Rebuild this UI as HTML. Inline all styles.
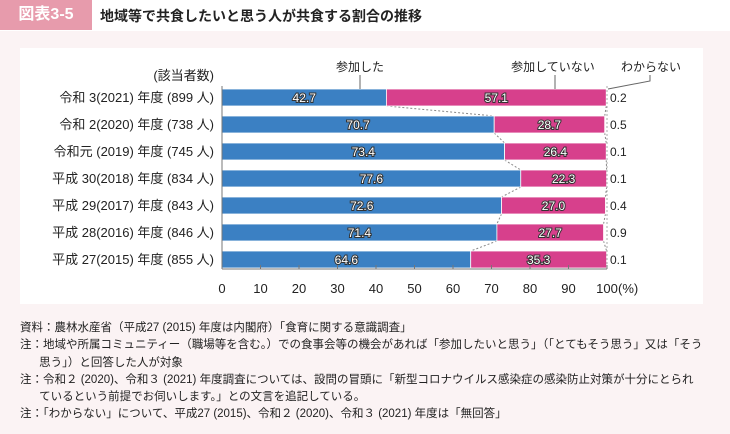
<!DOCTYPE html>
<html><head><meta charset="utf-8">
<style>
body{margin:0;width:730px;height:434px;background:#fbf3f4;font-family:"Liberation Sans","Noto Sans CJK JP",sans-serif;overflow:hidden;position:relative}
.hdr{position:absolute;left:0;top:0;width:730px;height:31px;background:#fff}
.tab{position:absolute;left:0;top:0;width:92px;height:30px;background:#e79bac;color:#fff;font-size:16px;font-weight:bold;line-height:30px;text-align:center}
.title{position:absolute;left:100px;top:6px;font-size:14px;font-weight:bold;color:#222}
.panel{position:absolute;left:20px;top:48px;width:683px;height:256px;background:#fff}
.notes{position:absolute;left:20px;top:320px;font-size:11.5px;color:#222;line-height:17.3px}
.notes div{white-space:nowrap}
</style></head><body>
<div class="hdr"></div>
<div class="tab">図表3-5</div>
<div class="title">地域等で共食したいと思う人が共食する割合の推移</div>
<div class="panel"></div>
<svg id="chart" width="730" height="434" style="position:absolute;left:0;top:0"></svg>
<div class="notes">
<div>資料：農林水産省（平成27 (2015) 年度は内閣府）「食育に関する意識調査」</div>
<div>注：地域や所属コミュニティー（職場等を含む。）での食事会等の機会があれば「参加したいと思う」（「とてもそう思う」又は「そう</div>
<div>&nbsp;&nbsp;&nbsp;&nbsp;&nbsp;&nbsp;思う」）と回答した人が対象</div>
<div>注：令和２ (2020)、令和３ (2021) 年度調査については、設問の冒頭に「新型コロナウイルス感染症の感染防止対策が十分にとられ</div>
<div>&nbsp;&nbsp;&nbsp;&nbsp;&nbsp;&nbsp;ているという前提でお伺いします。」との文言を追記している。</div>
<div>注：「わからない」について、平成27 (2015)、令和２ (2020)、令和３ (2021) 年度は「無回答」</div>
</div>
<script>
const categories=["令和 3(2021) 年度 (899 人)","令和 2(2020) 年度 (738 人)","令和元 (2019) 年度 (745 人)","平成 30(2018) 年度 (834 人)","平成 29(2017) 年度 (843 人)","平成 28(2016) 年度 (846 人)","平成 27(2015) 年度 (855 人)"];
const joined=[42.7,70.7,73.4,77.6,72.6,71.4,64.6];
const notJoined=[57.1,28.7,26.4,22.3,27.0,27.7,35.3];
const unknown=[0.2,0.5,0.1,0.1,0.4,0.9,0.1];
const ticks=[0,10,20,30,40,50,60,70,80,90,100];
const NS="http://www.w3.org/2000/svg";
const svg=document.getElementById('chart');
const x=v=>222+v*3.85;
const y=i=>89+i*27;
const BH=17;
function mk(t,a,txt){const e=document.createElementNS(NS,t);for(const k in a)e.setAttribute(k,a[k]);if(txt!==undefined)e.textContent=txt;svg.appendChild(e);return e;}
for(let i=0;i<categories.length-1;i++){
 const a=joined[i],b=joined[i+1],c=joined[i]+notJoined[i],d=joined[i+1]+notJoined[i+1];
 let l=mk('line',{x1:x(a),y1:y(i)+BH,x2:x(b),y2:y(i+1),stroke:'#888','stroke-dasharray':'2,2','stroke-width':1});
 
 l=mk('line',{x1:x(c),y1:y(i)+BH,x2:x(d),y2:y(i+1),stroke:'#888','stroke-dasharray':'2,2','stroke-width':1});
 
}
categories.forEach((c,i)=>{
 const yy=y(i);
 let t=mk('text',{x:214,y:yy+13,'text-anchor':'end','font-size':13,fill:'#222'},c);
 
 let r=mk('rect',{x:x(0),y:yy,width:x(joined[i])-x(0),height:BH,fill:'#3b80c3',stroke:'#fff','stroke-width':0.8});
 
 r=mk('rect',{x:x(joined[i]),y:yy,width:x(notJoined[i])-x(0),height:BH,fill:'#d7408c',stroke:'#fff','stroke-width':0.8});
 
 t=mk('text',{x:(x(0)+x(joined[i]))/2,y:yy+13,'text-anchor':'middle','font-size':12,fill:'#fff',stroke:'#333','stroke-width':2,'paint-order':'stroke'},joined[i].toFixed(1));
 
 t=mk('text',{x:(x(joined[i])+x(joined[i]+notJoined[i]))/2,y:yy+13,'text-anchor':'middle','font-size':12,fill:'#fff',stroke:'#333','stroke-width':2,'paint-order':'stroke'},notJoined[i].toFixed(1));
 
 t=mk('text',{x:x(100)+3,y:yy+13,'font-size':12,fill:'#222'},unknown[i].toFixed(1));
 
});
let ax=mk('line',{x1:x(0),y1:86,x2:x(0),y2:269,stroke:'#777'});

ax=mk('line',{x1:x(0),y1:269,x2:x(100),y2:269,stroke:'#777'});

ax=mk('line',{x1:x(100),y1:86,x2:x(100),y2:269,stroke:'#aaa','stroke-dasharray':'2,2'});

ticks.forEach(v=>{
 let l=mk('line',{x1:x(v),y1:265,x2:x(v),y2:269,stroke:'#777'});
 
 let t=mk('text',{x:x(v),y:293,'text-anchor':'middle','font-size':13,fill:'#222'},String(v));
 
});
let u=mk('text',{x:x(100)+11,y:293,'font-size':13,fill:'#222'},'(%)');

let h=mk('text',{x:214,y:80,'text-anchor':'end','font-size':13,fill:'#222'},'(該当者数)');

let e=mk('text',{x:360,y:71,'text-anchor':'middle','font-size':12,fill:'#222'},'参加した');

e=mk('line',{x1:360,y1:75,x2:360,y2:89,stroke:'#666'});
e=mk('text',{x:553,y:71,'text-anchor':'middle','font-size':12,fill:'#222'},'参加していない');

e=mk('line',{x1:555,y1:75,x2:555,y2:89,stroke:'#666'});
e=mk('text',{x:651,y:71,'text-anchor':'middle','font-size':12,fill:'#222'},'わからない');

e=mk('polyline',{points:'650,75 650,81 608,89',fill:'none',stroke:'#666'});
</script>
</body></html>
